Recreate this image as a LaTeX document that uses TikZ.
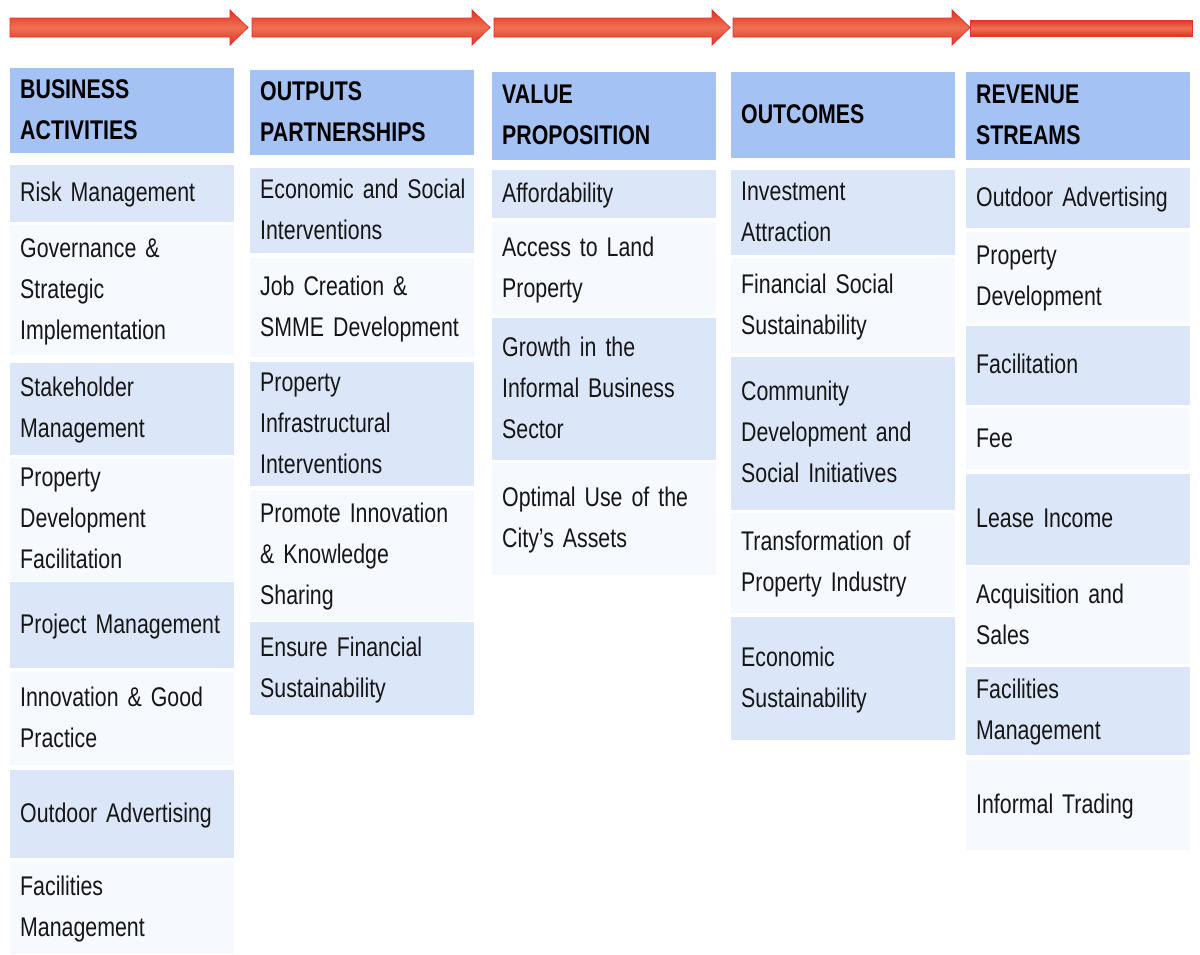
\documentclass[tikz,border=0pt]{standalone}
\usepackage{fontspec}
\setmainfont{Liberation Sans}[FakeStretch=0.79]
\definecolor{headblue}{RGB}{164,194,244}
\definecolor{cellblue}{RGB}{219,230,248}
\definecolor{cellpale}{RGB}{246,249,253}
\definecolor{textgray}{RGB}{22,22,22}
\definecolor{arrowred}{RGB}{222,52,42}
\definecolor{arroworange}{RGB}{240,112,82}
% keeps the lines of a cell together, left aligned
\newcommand\celltext[1]{\noindent\begin{tabular}{@{}l@{}}#1\end{tabular}}
\tikzset{
  cell/.style={ rectangle, anchor=north west, inner xsep=10pt, inner ysep=0pt,
    text width=204pt, text=textgray, font=\fontsize{27}{41}\selectfont }
}
\tikzset{
  cellA/.style={ cell, fill=cellblue, minimum height=#1 }
}
\tikzset{
  cellB/.style={ cell, fill=cellpale, minimum height=#1 }
}
\tikzset{
  headbox/.style={ cell, fill=headblue, text=black, font=\fontsize{27}{41}\selectfont\bfseries, minimum height=#1 }
}
\tikzset{
  flowarrow/.style={ draw=arrowred, line width=0.8pt, top color=arrowred, bottom color=arrowred, middle color=arroworange }
}

\begin{document}
\begin{tikzpicture}[x=1pt, y=-1pt]
      \fill[white] (0, 0) rectangle (1200, 954);
      \useasboundingbox (0, 0) rectangle (1200, 954);
      % arrows along the top
      \foreach \xa/\xb in {10/248, 252/490, 494/730, 733/970}
        \draw[flowarrow] (\xa, 18) -- (\xb-18, 18) -- (\xb-18, 10) -- (\xb, 27.5) -- (\xb-18, 45) -- (\xb-18, 37) -- (\xa, 37) -- cycle;
      \draw[flowarrow] (970, 20) rectangle (1192, 36);
      % headers
      \node[headbox=85pt] (hba) at (10, 68) {\celltext{BUSINESS\\ACTIVITIES}};
      \node[headbox=85pt] (hop) at (250, 70) {\celltext{OUTPUTS\\PARTNERSHIPS}};
      \node[headbox=88pt] (hvp) at (492, 72) {\celltext{VALUE\\PROPOSITION}};
      \node[headbox=86pt] (hoc) at (731, 72) {\celltext{OUTCOMES}};
      \node[headbox=88pt] (hrs) at (966, 72) {\celltext{REVENUE\\STREAMS}};
      % business activities
      \node[cellA=57pt] (ba1) at (10, 165) {\celltext{Risk Management}};
      \node[cellB=130pt] (ba2) at (10, 225) {\celltext{Governance \&\\Strategic\\Implementation}};
      \node[cellA=92pt] (ba3) at (10, 363) {\celltext{Stakeholder\\Management}};
      \node[cellB=120pt] (ba4) at (10, 458) {\celltext{Property\\Development\\Facilitation}};
      \node[cellA=86pt] (ba5) at (10, 582) {\celltext{Project Management}};
      \node[cellB=93pt] (ba6) at (10, 672) {\celltext{Innovation \& Good\\Practice}};
      \node[cellA=88pt] (ba7) at (10, 770) {\celltext{Outdoor Advertising}};
      \node[cellB=92pt] (ba8) at (10, 862) {\celltext{Facilities\\Management}};
      % outputs partnerships
      \node[cellA=85pt] (op1) at (250, 168) {\celltext{Economic and Social\\Interventions}};
      \node[cellB=99pt] (op2) at (250, 258) {\celltext{Job Creation \&\\SMME Development}};
      \node[cellA=124pt] (op3) at (250, 362) {\celltext{Property\\Infrastructural\\Interventions}};
      \node[cellB=130pt] (op4) at (250, 490) {\celltext{Promote Innovation\\\& Knowledge\\Sharing}};
      \node[cellA=93pt] (op5) at (250, 622) {\celltext{Ensure Financial\\Sustainability}};
      % value proposition
      \node[cellA=48pt] (vp1) at (492, 170) {\celltext{Affordability}};
      \node[cellB=93pt] (vp2) at (492, 222) {\celltext{Access to Land\\Property}};
      \node[cellA=142pt] (vp3) at (492, 318) {\celltext{Growth in the\\Informal Business\\Sector}};
      \node[cellB=112pt] (vp4) at (492, 463) {\celltext{Optimal Use of the\\City’s Assets}};
      % outcomes
      \node[cellA=85pt] (oc1) at (731, 170) {\celltext{Investment\\Attraction}};
      \node[cellB=95pt] (oc2) at (731, 258) {\celltext{Financial Social\\Sustainability}};
      \node[cellA=153pt] (oc3) at (731, 357) {\celltext{Community\\Development and\\Social Initiatives}};
      \node[cellB=100pt] (oc4) at (731, 513) {\celltext{Transformation of\\Property Industry}};
      \node[cellA=123pt] (oc5) at (731, 617) {\celltext{Economic\\Sustainability}};
      % revenue streams
      \node[cellA=60pt] (rs1) at (966, 168) {\celltext{Outdoor Advertising}};
      \node[cellB=90pt] (rs2) at (966, 232) {\celltext{Property\\Development}};
      \node[cellA=79pt] (rs3) at (966, 326) {\celltext{Facilitation}};
      \node[cellB=62pt] (rs4) at (966, 408) {\celltext{Fee}};
      \node[cellA=91pt] (rs5) at (966, 474) {\celltext{Lease Income}};
      \node[cellB=97pt] (rs6) at (966, 567) {\celltext{Acquisition and\\Sales}};
      \node[cellA=88pt] (rs7) at (966, 667) {\celltext{Facilities\\Management}};
      \node[cellB=90pt] (rs8) at (966, 760) {\celltext{Informal Trading}};
    \end{tikzpicture}
\end{document}
